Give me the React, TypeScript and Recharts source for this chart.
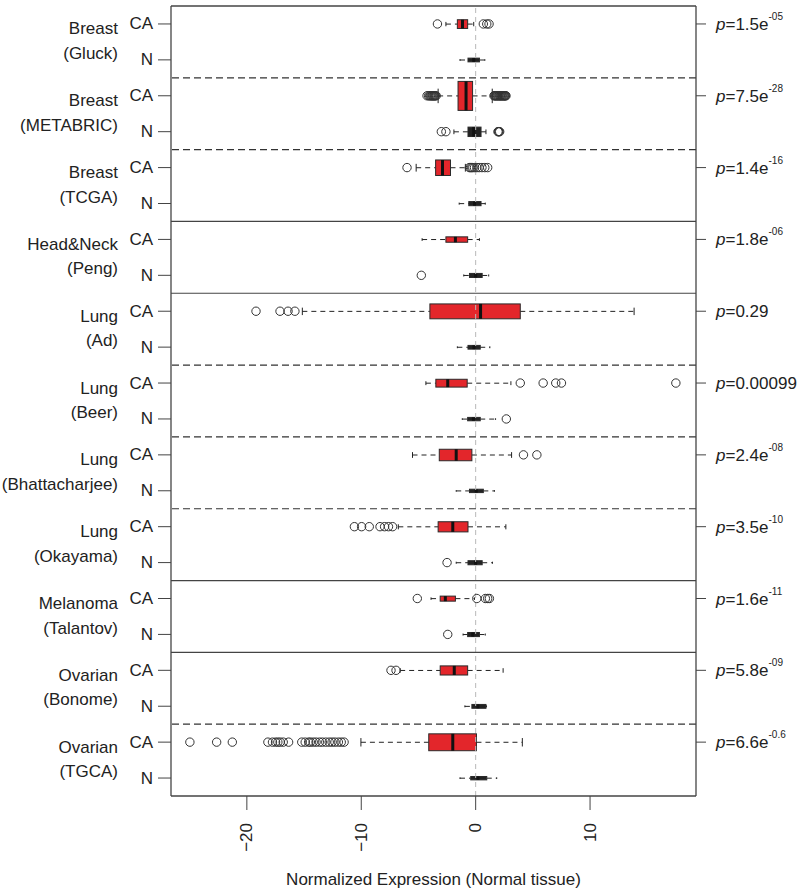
import React from 'react';
import { ComposedChart, Bar, Scatter, XAxis, YAxis, ReferenceLine } from 'recharts';

// one entry per study, top to bottom
const tissues = ['Breast', 'Breast', 'Breast', 'Head&Neck', 'Lung', 'Lung', 'Lung', 'Lung', 'Melanoma', 'Ovarian', 'Ovarian'];
const studies = ['(Gluck)', '(METABRIC)', '(TCGA)', '(Peng)', '(Ad)', '(Beer)', '(Bhattacharjee)', '(Okayama)', '(Talantov)', '(Bonome)', '(TGCA)'];
const pValues = ['1.5e-05', '7.5e-28', '1.4e-16', '1.8e-06', '0.29', '0.00099', '2.4e-08', '3.5e-10', '1.6e-11', '5.8e-09', '6.6e-0.6'];
// line drawn under each study (except the last)
const dividers = ['dashed', 'dashed', 'solid', 'solid', 'dashed', 'dashed', 'dashed', 'solid', 'solid', 'dashed'];

// rows alternate CA, N for each study
const whiskerLow = [-2.6, -1.37, -3.28, -1.9, -5.2, -1.44, -4.68, -1.04, -15.15, -1.6, -4.35, -1.17, -5.52, -1.7, -6.76, -1.7, -3.9, -1.1, -6.6, -0.94, -10.03, -1.37];
const lowerQuartile = [-1.6, -0.67, -1.54, -0.67, -3.5, -0.6, -2.6, -0.54, -4.0, -0.67, -3.48, -0.7, -3.18, -0.54, -3.28, -0.67, -3.1, -0.7, -3.1, -0.33, -4.1, -0.43];
const medians = [-1.15, -0.17, -0.84, -0.17, -2.9, -0.1, -1.77, 0.0, 0.43, -0.15, -2.44, -0.2, -1.7, 0.05, -2.0, 0.0, -2.65, -0.25, -1.87, 0.2, -2.0, 0.2];
const upperQuartile = [-0.7, 0.33, -0.27, 0.47, -2.2, 0.47, -0.7, 0.57, 3.9, 0.4, -0.74, 0.4, -0.33, 0.67, -0.67, 0.57, -1.77, 0.33, -0.7, 0.9, 0.07, 0.97];
const whiskerHigh = [-0.17, 0.8, 1.45, 0.9, -0.9, 0.84, 0.33, 1.14, 13.85, 1.24, 3.08, 1.74, 3.14, 1.64, 2.64, 1.47, -0.1, 0.84, 2.4, 0.95, 4.08, 1.84];
const sampleSizes = [180, 33, 1992, 210, 570, 40, 69, 39, 525, 33, 145, 27, 313, 27, 244, 39, 60, 40, 197, 35, 675, 27];
const outliers: number[][] = [
  [-3.34, 0.67, 0.97, 1.17],
  [],
  [-4.25, -4.12, -4.02, -3.95, -3.88, -3.82, -3.76, -3.7, -3.64, -3.58, -3.52, -3.45, 1.6, 1.66, 1.72, 1.79, 1.85, 1.91, 1.98, 2.04, 2.1, 2.16, 2.2, 2.27, 2.32, 2.38, 2.45, 2.5, 2.55, 2.6, 2.65],
  [-3.0, -2.6, 1.95, 2.0, 2.04, 2.1],
  [-6.0, -0.55, -0.45, -0.35, -0.25, -0.1, 0.1, 0.3, 0.55, 0.8, 1.05],
  [],
  [],
  [-4.75],
  [-19.2, -17.1, -16.4, -15.8],
  [],
  [3.9, 5.9, 7.0, 7.5, 17.5],
  [2.68],
  [4.18, 5.35],
  [],
  [-10.6, -9.97, -9.3, -8.36, -7.96, -7.62, -7.26],
  [-2.5],
  [-5.1, 0.1, 0.85, 1.05, 1.2],
  [-2.44],
  [-7.4, -6.96],
  [],
  [-24.98, -22.64, -21.27, -18.16, -17.76, -17.49, -17.29, -17.09, -16.82, -16.35, -15.2, -14.9, -14.6, -14.45, -14.2, -13.95, -13.65, -13.4, -13.1, -12.8, -12.55, -12.3, -12.0, -11.75, -11.5],
  [],
];
const xTicks = [-20, -10, 0, 10];

const ink = '#222';
const frame = '#444';
const caFill = '#e3262b';
const nFill = '#222';
const font = '"Liberation Sans", Arial, Helvetica, sans-serif';
const maxN = Math.max(...sampleSizes);
const rowCount = whiskerLow.length;

const rows = whiskerLow.map((lo, i) => ({
  row: String(i),
  idx: i,
  range: [lo, whiskerHigh[i]],
  lo,
  q1: lowerQuartile[i],
  med: medians[i],
  q3: upperQuartile[i],
  hi: whiskerHigh[i],
  n: sampleSizes[i],
  isCA: i % 2 === 0,
}));

const outlierPoints = outliers.flatMap((vals, i) => vals.map((v) => ({ x: v, idx: i })));

function BoxShape(props: any) {
  const { x, y, width, height, payload } = props;
  const { lo, q1, med, q3, hi, n, isCA } = payload;
  const left = Math.min(x, x + width);
  const span = Math.abs(width);
  const px = (v: number) => left + ((v - lo) / (hi - lo)) * span;
  const cy = y + height / 2;
  const bh = height * Math.sqrt(n / maxN);
  const staple = bh * 0.5;
  return (
    <g>
      <line x1={px(lo)} x2={px(q1)} y1={cy} y2={cy} stroke={ink} strokeDasharray="5 4" />
      <line x1={px(q3)} x2={px(hi)} y1={cy} y2={cy} stroke={ink} strokeDasharray="5 4" />
      <line x1={px(lo)} x2={px(lo)} y1={cy - staple / 2} y2={cy + staple / 2} stroke={ink} />
      <line x1={px(hi)} x2={px(hi)} y1={cy - staple / 2} y2={cy + staple / 2} stroke={ink} />
      <rect x={px(q1)} y={cy - bh / 2} width={px(q3) - px(q1)} height={bh} fill={isCA ? caFill : nFill} stroke="#2a2a2a" strokeWidth={1} />
      <line x1={px(med)} x2={px(med)} y1={cy - bh / 2} y2={cy + bh / 2} stroke="#111" strokeWidth={3} />
    </g>
  );
}

function OutlierShape(props: any) {
  const { cx, cy } = props;
  return <circle cx={cx} cy={cy} r={4.2} fill="none" stroke="#333" strokeWidth={1} />;
}

function RowTick(props: any) {
  const { x, y, payload } = props;
  const i = Number(payload.value);
  const g = Math.floor(i / 2);
  const isCA = i % 2 === 0;
  return (
    <g fontFamily={font} fontSize={17} fill={ink}>
      <text x={x} y={y} textAnchor="end" dominantBaseline="central" fill={ink}>
        {isCA ? 'CA' : 'N'}
      </text>
      {isCA && (
        <>
          <text x={x - 35} y={y + 5} textAnchor="end" dominantBaseline="central" fill={ink}>
            {tissues[g]}
          </text>
          <text x={x - 35} y={y + 29.5} textAnchor="end" dominantBaseline="central" fill={ink}>
            {studies[g]}
          </text>
        </>
      )}
    </g>
  );
}

function PTick(props: any) {
  const { x, y, payload } = props;
  const g = Math.round(payload.value / 2);
  const [mant, exp] = pValues[g].split('e');
  return (
    <text x={x} y={y + 6} fontFamily={font} fontSize={17} fill={ink}>
      <tspan fontStyle="italic">p</tspan>
      <tspan>={mant}{exp !== undefined ? 'e' : ''}</tspan>
      {exp !== undefined && (
        <tspan fontSize={10} y={y - 4}>
          {exp}
        </tspan>
      )}
    </text>
  );
}

function XTick(props: any) {
  const { x, y, payload } = props;
  const v = payload.value;
  const label = v < 0 ? `\u2212${Math.abs(v)}` : String(v);
  return (
    <text
      x={x}
      y={y}
      transform={`rotate(-90, ${x}, ${y})`}
      textAnchor="end"
      dominantBaseline="central"
      fontFamily={font}
      fontSize={17}
      fill={ink}
    >
      {label}
    </text>
  );
}

export default function App() {
  const xDomain = [-26.63, 19.26];
  return (
    <div style={{ position: 'absolute', left: 0, top: 0, background: '#fff' }}>
      <ComposedChart
        width={800}
        height={889}
        data={rows}
        layout="vertical"
        margin={{ top: 6, right: 0, bottom: 0, left: 0 }}
        style={{ fontFamily: font }}
      >
        <XAxis
          type="number"
          domain={xDomain}
          allowDataOverflow
          ticks={xTicks}
          interval={0}
          height={93}
          tickSize={14}
          tickMargin={13}
          tick={<XTick />}
          axisLine={{ stroke: frame, strokeWidth: 1.3 }}
          tickLine={{ stroke: frame }}
          label={{ value: 'Normalized Expression (Normal tissue)', position: 'insideBottom', offset: 4, fill: ink, fontSize: 17, fontFamily: font }}
        />
        <XAxis xAxisId="out" type="number" dataKey="x" domain={xDomain} allowDataOverflow hide />
        <YAxis
          type="category"
          dataKey="row"
          width={171}
          interval={0}
          tickSize={13}
          tickMargin={5}
          tick={<RowTick />}
          axisLine={{ stroke: frame, strokeWidth: 1.3 }}
          tickLine={{ stroke: frame }}
        />
        <YAxis
          yAxisId="num"
          orientation="right"
          type="number"
          dataKey="idx"
          domain={[-0.5, rowCount - 0.5]}
          allowDataOverflow
          ticks={[0, 2, 4, 6, 8, 10, 12, 14, 16, 18, 20]}
          interval={0}
          width={104}
          tickSize={10}
          tickMargin={10}
          tick={<PTick />}
          axisLine={{ stroke: frame, strokeWidth: 1.3 }}
          tickLine={{ stroke: frame }}
        />
        <ReferenceLine x={0} stroke="#b8b8b8" strokeDasharray="5 4" />
        <ReferenceLine y={-0.5} yAxisId="num" stroke={frame} strokeWidth={1.3} />
        {dividers.map((kind, g) => (
          <ReferenceLine
            key={g}
            y={2 * g + 1.5}
            yAxisId="num"
            stroke={kind === 'solid' ? frame : '#333'}
            strokeWidth={1.2}
            strokeDasharray={kind === 'solid' ? undefined : '7 4'}
          />
        ))}
        <Bar dataKey="range" shape={<BoxShape />} isAnimationActive={false} />
        <Scatter
          data={outlierPoints}
          xAxisId="out"
          yAxisId="num"
          shape={<OutlierShape />}
          isAnimationActive={false}
        />
      </ComposedChart>
    </div>
  );
}
